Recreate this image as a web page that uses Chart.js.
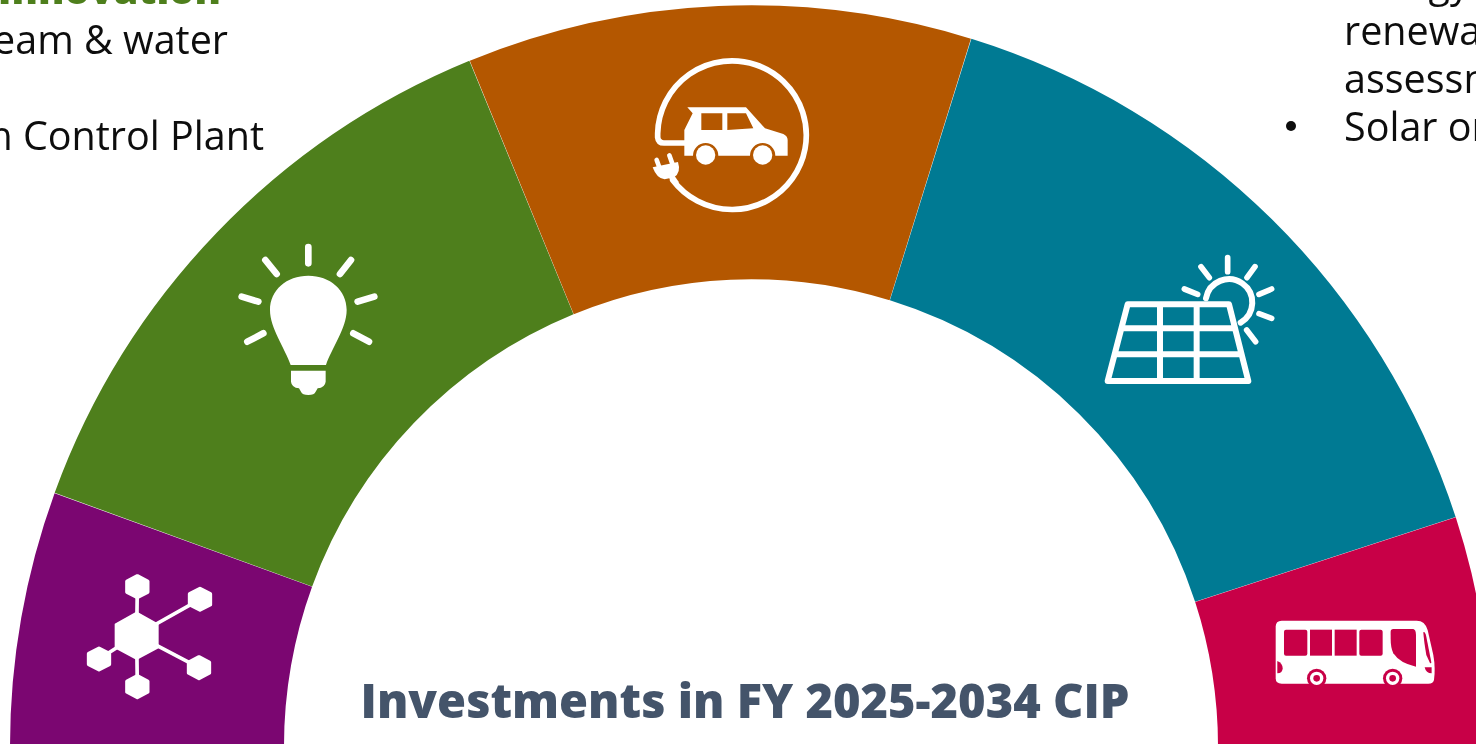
<!DOCTYPE html>
<html>
<head>
<meta charset="utf-8">
<title>Investments in FY 2025-2034 CIP</title>
<script src="https://cdn.jsdelivr.net/npm/chart.js@4"></script>
<style>
    html, body { margin: 0; padding: 0; width: 1476px; height: 744px; overflow: hidden; background: #fff; }
    #gauge { position: absolute; left: 10px; top: 5px; }
    #overlay { position: absolute; left: 0; top: 0; pointer-events: none; }
    #overlay text { font-family: "Open Sans", "Noto Sans", sans-serif; font-size: 39.5px; fill: #0d0d0d; }
    #overlay .heading { font-weight: 800; fill: #4e7f1c; }
    #overlay .title { font-weight: 800; font-size: 47px; fill: #44546a; }
</style>
</head>
<body>
<canvas id="gauge" width="1482" height="742"></canvas>

<svg id="overlay" width="1476" height="744" viewBox="0 0 1476 744">
    <!-- side notes, cut off by the page edges -->
    <text class="heading" x="221" y="4" text-anchor="end">Innovation</text>
    <text x="228" y="54" text-anchor="end">steam &amp; water</text>
    <text x="264" y="150" text-anchor="end">Pollution Control Plant</text>
    <text x="1344" y="-3">Energy</text>
    <text x="1344" y="45">renewable</text>
    <text x="1344" y="93">assessment</text>
    <circle cx="1291" cy="126" r="5" fill="#0d0d0d"/>
    <text x="1344" y="141">Solar on</text>

    <text class="title" x="745" y="718" text-anchor="middle">Investments in FY 2025-2034 CIP</text>

    <!-- electric car -->
    <g transform="translate(640,50) scale(.3333)">
        <path d="M98 390 A223 223 0 1 0 53 250 L53 262 Q55 279 72 279 L135 279" fill="none" stroke="#fff" stroke-width="17" stroke-linecap="round"/>
        <path fill="#fff" fill-rule="evenodd" d="M142 172 L318 172 L375 235 L430 252 Q443 258 443 270 L443 317 L406 317 A38 38 0 0 0 330 317 L235 317 A38 38 0 0 0 159 317 L133 317 L133 240 L158 190 Z
            M184 190 L247 190 L247 240 L184 240 Z M262 190 L318 190 L340 235 L262 240 Z"/>
        <circle cx="197" cy="315" r="29" fill="#fff"/>
        <circle cx="368" cy="315" r="29" fill="#fff"/>
        <path fill="#fff" d="M38 352 L114 336 Q124 368 102 382 L74 388 Q50 386 38 352 Z"/>
        <path d="M50 330 L58 352 M88 316 L98 344" stroke="#fff" stroke-width="14" stroke-linecap="round"/>
        <path d="M92 376 L110 402" stroke="#fff" stroke-width="17"/>
    </g>

    <!-- light bulb -->
    <g transform="translate(225,235) scale(.3333)">
        <path d="M250 36 L250 85 M121 75 L155 117 M378 75 L345 117 M50 185 L100 200 M448 185 L398 200 M67 320 L115 295 M432 320 L385 295" stroke="#fff" stroke-width="20" stroke-linecap="round"/>
        <path fill="#fff" d="M197 390 C180 340 135 280 135 225 C135 165 185 122 250 122 C315 122 365 165 365 225 C365 280 320 340 303 390 Z"/>
        <path fill="#fff" d="M198 407 L302 407 L302 440 Q300 458 278 460 L272 470 Q268 480 250 480 Q232 480 228 470 L222 460 Q200 458 198 440 Z"/>
    </g>

    <!-- solar panel -->
    <g transform="translate(1095,245) scale(.3333)" fill="none" stroke="#fff" stroke-linecap="round" stroke-linejoin="round">
        <path stroke-width="18" d="M98 178 L402 178 L460 408 L38 408 Z M82 250 L418 250 M64 328 L438 328 M195 178 L195 408 M305 178 L305 408"/>
        <path stroke-width="18" d="M333 160 A70 70 0 1 1 437 233"/>
        <path stroke-width="17" d="M398 38 L398 80 M318 65 L343 98 M480 65 L456 98 M268 132 L308 148 M530 132 L492 148 M530 220 L492 206 M455 255 L482 290"/>
    </g>

    <!-- network of nodes -->
    <g transform="translate(75,565) scale(.3333)" fill="#fff" stroke="#fff">
        <defs>
            <polygon id="node" points="0,-32 31,-16 31,16 0,32 -31,16 -31,-16" stroke-width="11" stroke-linejoin="round"/>
        </defs>
        <path stroke-width="11" d="M185 210 L187 65 M185 210 L375 103 M185 210 L372 308 M185 210 L72 282 M185 210 L187 365"/>
        <polygon points="185,143 248,178 248,248 185,282 122,248 122,178" stroke-width="6" stroke-linejoin="round"/>
        <use href="#node" x="187" y="65"/>
        <use href="#node" x="375" y="103"/>
        <use href="#node" x="372" y="308"/>
        <use href="#node" x="72" y="282"/>
        <use href="#node" x="187" y="365"/>
    </g>

    <!-- bus -->
    <g transform="translate(1260,605) scale(.3333)">
        <path fill="#fff" d="M65 47 L470 47 Q495 47 503 75 L520 150 Q527 190 522 225 Q520 236 505 236 L65 236 Q47 236 47 220 L47 65 Q47 47 65 47 Z"/>
        <g fill="#c80047">
            <rect x="72" y="74" width="70" height="78" rx="6"/>
            <rect x="150" y="74" width="66" height="78"/>
            <rect x="224" y="74" width="66" height="78"/>
            <rect x="298" y="74" width="70" height="78" rx="6"/>
            <path d="M392 80 Q392 72 400 72 L460 72 Q468 74 468 90 L468 185 Q420 175 400 145 Q392 130 392 100 Z"/>
            <path d="M490 82 Q495 78 499 95 L514 172 Q514 177 510 174 L499 150 Q492 110 490 82 Z"/>
            <path d="M52 168 Q68 175 68 190 Q68 205 52 205 Z"/>
            <path d="M494 187 L515 187 L515 205 Q498 205 494 187 Z"/>
            <circle cx="170" cy="220" r="29"/>
            <circle cx="398" cy="220" r="29"/>
        </g>
        <circle cx="170" cy="220" r="20" fill="#fff"/>
        <circle cx="398" cy="220" r="20" fill="#fff"/>
        <circle cx="170" cy="220" r="10" fill="#c80047"/>
        <circle cx="398" cy="220" r="10" fill="#c80047"/>
    </g>
</svg>

<script>
const categories = ['Technology', 'Innovation', 'Electric vehicles', 'Renewable energy', 'Transit'];
const shareOfInvestment = [11.1, 26.5, 22, 30.4, 10];
const sliceColors = ['#7b0671', '#4e7f1c', '#b45700', '#007a93', '#c80047'];

new Chart(document.getElementById('gauge'), {
    type: 'doughnut',
    data: {
        labels: categories,
        datasets: [{
            data: shareOfInvestment,
            backgroundColor: sliceColors,
            borderWidth: 0,
            spacing: 1
        }]
    },
    options: {
        responsive: false,
        animation: false,
        rotation: -90,
        circumference: 180,
        cutout: '63%',
        layout: { padding: 0 },
        plugins: {
            legend: { display: false },
            tooltip: { enabled: false }
        }
    }
});
</script>
</body>
</html>
